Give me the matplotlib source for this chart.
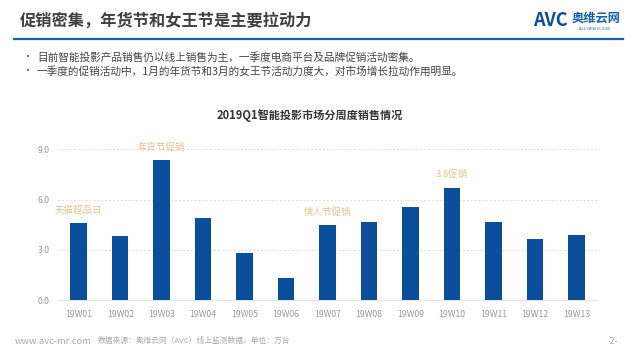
import numpy as np
import matplotlib
matplotlib.use("Agg")
import matplotlib.pyplot as plt

plt.rcParams['font.family'] = ['Noto Sans CJK SC', 'DejaVu Sans']

# data (unit: 万台)
weeks = ["19W01", "19W02", "19W03", "19W04", "19W05", "19W06", "19W07",
         "19W08", "19W09", "19W10", "19W11", "19W12", "19W13"]
sales = [4.62, 3.83, 8.37, 4.88, 2.82, 1.33, 4.45, 4.68, 5.58, 6.71, 4.64, 3.65, 3.89]
yticks = [0.0, 3.0, 6.0, 9.0]

# promotions marked above some bars
promo_idx = [0, 2, 6, 9]
promo_text = ["天猫超品日", "年货节促销", "情人节促销", "3.8促销"]

bar_color = "#0b4f9c"
promo_color = "#e2c48e"
gray = "#9a9a9a"

fig = plt.figure(figsize=(6.4, 3.6), dpi=100)

# header
fig.text(20/640, 1 - 21/360, "促销密集，年货节和女王节是主要拉动力", fontsize=11.7,
         fontweight="bold", color="#404040", va="center", ha="left")
fig.add_artist(plt.Line2D([14/640, 623/640], [1 - 39/360, 1 - 39/360],
                          color="#1a5fa8", lw=1.6))
fig.text(533/640, 1 - 21/360, "AVC", fontsize=13, fontweight="bold", color="#0b4f9c",
         va="center", ha="left", fontstyle="italic")
fig.text(572/640, 1 - 18/360, "奥维云网", fontsize=8.8, fontweight="bold", color="#1a5fa8",
         va="center", ha="left")
fig.text(579/640, 1 - 29/360, "ALL VIEW CLOUD", fontsize=2.9, color="#1a5fa8",
         va="center", ha="left")

# bullets
bullets = ["目前智能投影产品销售仍以线上销售为主，一季度电商平台及品牌促销活动密集。",
           "一季度的促销活动中，1月的年货节和3月的女王节活动力度大，对市场增长拉动作用明显。"]
for i, b in enumerate(bullets):
    y = 1 - (57 + 14*i)/360
    fig.text(22/640, y, "•", fontsize=7, color="#555555", va="center")
    fig.text(37/640, y, b, fontsize=7.7, color="#444444", va="center")

# footer
fig.text(15/640, 1 - 341/360, "www.avc-mr.com", fontsize=6.7, color="#aaaaaa", va="center")
fig.text(98/640, 1 - 341/360, "数据来源：奥维云网（AVC）线上监测数据，单位：万台", fontsize=5.6,
         color="#aaaaaa", va="center")
fig.text(613/640, 1 - 341/360, "-2-", fontsize=6, color="#aaaaaa", va="center", ha="center")

# chart
ax = fig.add_axes([58/640, 60/360, 539/640, 150.7/360])
x = np.arange(len(weeks))
ax.bar(x, sales, width=0.4, color=bar_color, zorder=3)
ax.set_xlim(-0.5, len(weeks) - 0.5)
ax.set_ylim(0, 9)
ax.set_yticks(yticks)
ax.set_yticklabels([f"{v:.1f}" for v in yticks])
ax.set_xticks(x)
ax.set_xticklabels(weeks)
ax.tick_params(axis="both", length=0, labelsize=6.3, colors=gray)
ax.tick_params(axis="x", pad=7)
ax.tick_params(axis="y", pad=6)
for v in yticks[1:]:
    ax.axhline(v, color="#dddddd", lw=0.7, ls=(0, (2, 2)), zorder=1, clip_on=False)
for s in ["top", "right", "left"]:
    ax.spines[s].set_visible(False)
ax.spines["bottom"].set_color("#e3e3e3")
ax.spines["bottom"].set_linewidth(0.8)

for i, t in zip(promo_idx, promo_text):
    ax.annotate(t, (x[i], sales[i]), xytext=(0, 6), textcoords="offset points",
                ha="center", va="bottom", fontsize=6.8, color=promo_color,
                annotation_clip=False)

fig.text(310/640, 1 - 115/360, "2019Q1智能投影市场分周度销售情况", fontsize=8,
         fontweight="bold", color="#333333", ha="center", va="center")

fig.savefig("out.png", dpi=100, facecolor="white")
